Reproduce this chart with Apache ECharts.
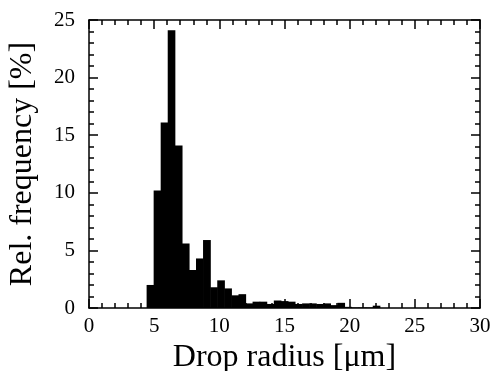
<!DOCTYPE html>
<html>
<head>
<meta charset="utf-8">
<script src="https://cdn.jsdelivr.net/npm/echarts@6/dist/echarts.min.js"></script>
<style>
html,body{margin:0;padding:0;background:#fff;}
#c{width:495px;height:371px;}
</style>
</head>
<body>
<div id="c"></div>
<script>
// Histogram bin edges (µm)
var binEdges = [4.42, 4.96, 5.50, 6.04, 6.58, 7.13, 7.67, 8.21, 8.75, 9.30, 9.84,
  10.38, 10.92, 11.47, 12.01, 12.55, 13.09, 13.63, 14.18, 14.72, 15.26, 15.80,
  16.35, 16.89, 17.43, 17.97, 18.52, 19.06, 19.60, 20.14, 20.69, 21.23, 21.77, 22.31];
// Relative frequency (%) of each bin
var freqValues = [2.0, 10.2, 16.1, 24.1, 14.1, 5.6, 3.3, 4.3, 5.9, 1.8, 2.4,
  1.7, 1.1, 1.2, 0.4, 0.55, 0.55, 0.35, 0.65, 0.6, 0.55, 0.35,
  0.4, 0.4, 0.35, 0.4, 0.25, 0.45, 0.1, 0.05, 0.05, 0.05, 0.2];
var xTicks = [0, 5, 10, 15, 20, 25, 30];
var yTicks = [0, 5, 10, 15, 20, 25];

var data = freqValues.map(function (v, i) { return [binEdges[i], binEdges[i + 1], v]; });

var font = '"Liberation Serif", "Times New Roman", serif';
var lineStyle = { color: '#000', width: 1.5 };

function axisCommon(showLabel) {
  return {
    axisLine: { show: true, onZero: false, lineStyle: lineStyle },
    axisTick: { show: true, inside: true, length: 9, lineStyle: lineStyle },
    minorTick: { show: true, splitNumber: 5, length: 5, lineStyle: lineStyle },
    splitLine: { show: false },
    axisLabel: { show: showLabel, color: '#000', fontFamily: font, fontSize: 21 }
  };
}

var xb = Object.assign(axisCommon(true), {
  type: 'value', position: 'bottom', min: xTicks[0], max: xTicks[xTicks.length - 1], interval: 5,
  name: 'Drop radius [μm]', nameLocation: 'middle', nameGap: 33,
  nameTextStyle: { color: '#000', fontFamily: font, fontSize: 32 }
});
xb.axisLabel.margin = 8;
var xt = Object.assign(axisCommon(false), {
  type: 'value', position: 'top', min: xTicks[0], max: xTicks[xTicks.length - 1], interval: 5
});
var yl = Object.assign(axisCommon(true), {
  type: 'value', position: 'left', min: yTicks[0], max: yTicks[yTicks.length - 1], interval: 5,
  name: 'Rel. frequency [%]', nameLocation: 'middle', nameGap: 50,
  nameTextStyle: { color: '#000', fontFamily: font, fontSize: 32 }
});
yl.axisLabel.margin = 14;
var yr = Object.assign(axisCommon(false), {
  type: 'value', position: 'right', min: yTicks[0], max: yTicks[yTicks.length - 1], interval: 5
});

var chart = echarts.init(document.getElementById('c'), null, { renderer: 'canvas' });
chart.setOption({
  animation: false,
  backgroundColor: '#fff',
  grid: { left: 89, right: 15, top: 20, bottom: 63, containLabel: false, outerBoundsMode: 'none' },
  xAxis: [xb, xt],
  yAxis: [yl, yr],
  series: [{
    type: 'custom',
    xAxisIndex: 0,
    yAxisIndex: 0,
    data: data,
    encode: { x: [0, 1], y: 2 },
    renderItem: function (params, api) {
      var p0 = api.coord([api.value(0), api.value(2)]);
      var p1 = api.coord([api.value(1), 0]);
      return {
        type: 'rect',
        shape: { x: p0[0], y: p0[1], width: p1[0] - p0[0] + 0.6, height: p1[1] - p0[1] },
        style: { fill: '#000' }
      };
    }
  }]
});
</script>
</body>
</html>
